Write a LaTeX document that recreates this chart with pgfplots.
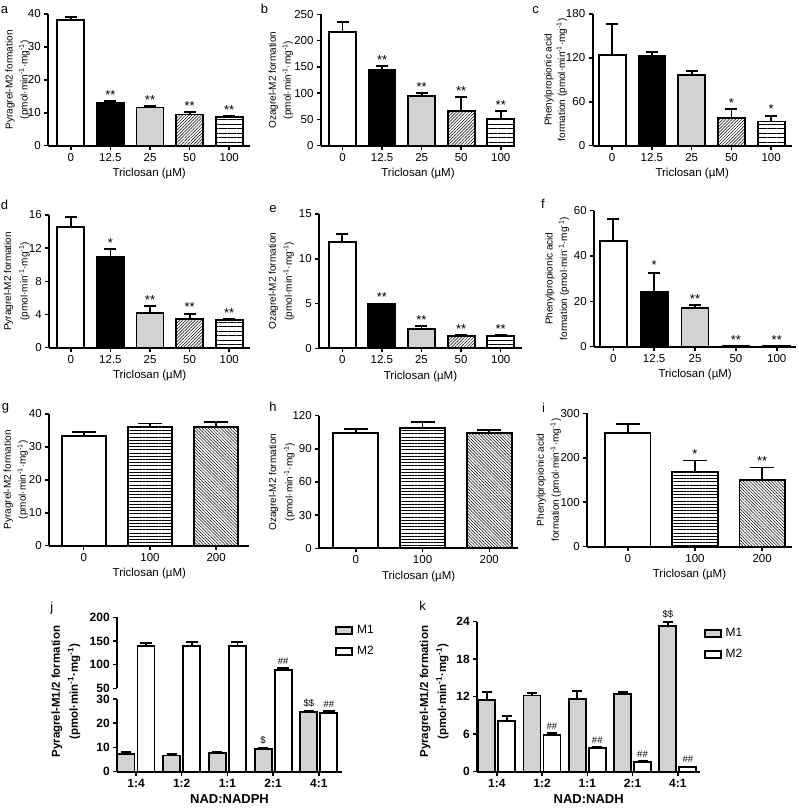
\documentclass[border=0pt]{standalone}
\usepackage{fontspec}
\setmainfont{Liberation Sans}
\usepackage{pgfplots}
\pgfplotsset{compat=1.18}
\usetikzlibrary{patterns.meta}
\definecolor{lg}{RGB}{210,210,210}
\newcommand{\fs}[1]{\fontsize{#1}{#1}\selectfont}
\newcommand{\st}[3]{\node[anchor=south, inner sep=0pt, yshift=1.5pt, font=\fs{13}] at (axis cs:#1,#2) {#3};}
\newcommand{\hs}[3]{\node[anchor=south, inner sep=0pt, yshift=3.5pt, font=\fs{9.5}] at (axis cs:#1,#2) {#3};}
\newcommand{\ylab}[2]{ylabel style={at={([xshift=-#1pt]axis description cs:0,#2)}}}
\pgfplotsset{
  base/.style={
    scale only axis, anchor=south west,
    axis x line=bottom, axis y line=left,
    axis line style={-, line width=1.8pt, black},
    tick align=outside, major tick length=4pt,
    major tick style={line width=1.5pt, black},
    enlargelimits=false, clip mode=individual,
    /pgf/number format/assume math mode=true,
  },
  gp/.style={base, ybar, enlargelimits=false,
    every axis plot post/.append style={bar shift=0pt},
    tick label style={font=\fs{11.5}},
    ylabel style={anchor=center, align=center, font=\fontsize{10}{15}\selectfont},
    xlabel style={font=\fs{11.5}},
    xlabel={Triclosan (µM)}, ymin=0},
  five/.style={gp, xtick={0,1,2,3,4}, xticklabels={0,12.5,25,50,100}, bar width=27pt},
  three/.style={gp, xtick={0,1,2}, xticklabels={0,100,200}, bar width=44pt},
  jk/.style={base, ybar=3pt, bar width=17pt, enlargelimits=false,
    tick label style={font=\bfseries\fs{12}},
    ylabel style={anchor=center, align=center, font=\bfseries\fontsize{11.5}{18}\selectfont},
    xlabel style={font=\bfseries\fs{13}},
    xtick={0,1,2,3,4}, xticklabels={1:4,1:2,1:1,2:1,4:1},
    legend image code/.code={\draw[#1, line width=1.8pt] (0pt,-3.5pt) rectangle (16pt,3.5pt);},
    legend style={draw=none, fill=none, font=\fs{12}, nodes={inner sep=1pt}, row sep=9pt, column sep=3pt, anchor=north west},
    legend cell align=left},
  bb/.style={draw=black, line width=1.8pt},
  bw/.style={bb, fill=white},
  bk/.style={bb, fill=black},
  bg/.style={bb, fill=lg},
  bd/.style={bb, pattern={Lines[angle=45,distance=2.2pt,line width=0.5pt]}},
  bh/.style={bb, pattern={Lines[angle=0,distance=4.5pt,line width=0.5pt]}},
  bh2/.style={bb, pattern={Lines[angle=0,distance=3.2pt,line width=0.45pt]}},
  bd2/.style={bb, pattern={Lines[angle=-45,distance=2.2pt,line width=0.5pt]}},
  eb/.style={error bars/y dir=plus, error bars/y explicit,
    error bars/error bar style={line width=1.8pt, black},
    error bars/error mark options={rotate=90, mark size=#1, line width=1.8pt, black}},
  eb/.default=6pt,
}
\begin{document}
\begin{tikzpicture}
\useasboundingbox (0,0) rectangle (798pt,808pt);
% panel letters
\node[font=\fs{13}] at (4.5pt,797.5pt) {a};
\node[font=\fs{13}] at (264.5pt,799pt) {b};
\node[font=\fs{13}] at (535.5pt,797.5pt) {c};
\node[font=\fs{13}] at (4.5pt,603pt) {d};
\node[font=\fs{13}] at (273pt,599pt) {e};
\node[font=\fs{13}] at (543pt,604.5pt) {f};
\node[font=\fs{13}] at (5.5pt,400pt) {g};
\node[font=\fs{13}] at (273pt,401.3pt) {h};
\node[font=\fs{13}] at (543.5pt,400.5pt) {i};
\node[font=\fs{13}] at (51.7pt,200pt) {j};
\node[font=\fs{13}] at (422.5pt,202pt) {k};

% ---------- a
\begin{axis}[five, at={(48.3pt,662.3pt)}, width=201.7pt, height=131.7pt,
  xmin=-0.568, xmax=4.525, ymax=40, ytick={0,10,20,30,40},
  \ylab{30.8}{0.5},
  ylabel={Pyragrel-M2 formation\\(pmol·min\textsuperscript{-1}·mg\textsuperscript{-1})}]
\addplot[bw, eb] coordinates {(0,38.2) +- (0,1.0)};
\addplot[bk, eb] coordinates {(1,13.1) +- (0,0.5)};
\addplot[bg, eb] coordinates {(2,11.6) +- (0,0.5)};
\addplot[bd, eb] coordinates {(3,9.5) +- (0,0.8)};
\addplot[bh, eb] coordinates {(4,8.6) +- (0,0.3)};
\st{1}{13.6}{**}\st{2}{12.1}{**}\st{3}{10.3}{**}\st{4}{8.9}{**}
\end{axis}

% ---------- b
\begin{axis}[five, at={(321pt,662.3pt)}, width=194pt, height=131.4pt,
  xmin=-0.544, xmax=4.36, ymax=250, ytick={0,50,100,150,200,250},
  \ylab{40.2}{0.5},
  ylabel={Ozagrel-M2 formation\\(pmol·min\textsuperscript{-1}·mg\textsuperscript{-1})}]
\addplot[bw, eb] coordinates {(0,217) +- (0,18)};
\addplot[bk, eb] coordinates {(1,143.5) +- (0,8.5)};
\addplot[bg, eb] coordinates {(2,94) +- (0,6)};
\addplot[bd, eb] coordinates {(3,66) +- (0,26)};
\addplot[bh, eb] coordinates {(4,51) +- (0,15)};
\st{1}{152}{**}\st{2}{100}{**}\st{3}{92}{**}\st{4}{66}{**}
\end{axis}

% ---------- c
\begin{axis}[five, at={(592.7pt,662.3pt)}, width=199pt, height=131.7pt,
  xmin=-0.49, xmax=4.516, ymax=180, ytick={0,60,120,180},
  \ylab{37}{0.5}, ylabel style={font=\fontsize{10}{13.5}\selectfont},
  ylabel={Phenylpropionic acid\\formation (pmol·min\textsuperscript{-1}·mg\textsuperscript{-1})}]
\addplot[bw, eb] coordinates {(0,124) +- (0,42)};
\addplot[bk, eb] coordinates {(1,122.5) +- (0,5.5)};
\addplot[bg, eb] coordinates {(2,96.5) +- (0,5.5)};
\addplot[bd, eb] coordinates {(3,38) +- (0,12)};
\addplot[bh, eb] coordinates {(4,33) +- (0,8)};
\st{3}{50}{*}\st{4}{41}{*}
\end{axis}

% ---------- d
\begin{axis}[five, at={(49.3pt,460.3pt)}, width=200.7pt, height=132.7pt,
  xmin=-0.543, xmax=4.525, ymax=16, ytick={0,4,8,12,16},
  \ylab{32.6}{0.5}, ylabel style={font=\fontsize{10}{16.5}\selectfont},
  ylabel={Pyragrel-M2 formation\\(pmol·min\textsuperscript{-1}·mg\textsuperscript{-1})}]
\addplot[bw, eb] coordinates {(0,14.6) +- (0,1.15)};
\addplot[bk, eb] coordinates {(1,10.9) +- (0,1.0)};
\addplot[bg, eb] coordinates {(2,4.2) +- (0,0.85)};
\addplot[bd, eb] coordinates {(3,3.5) +- (0,0.6)};
\addplot[bh, eb] coordinates {(4,3.3) +- (0,0.15)};
\st{1}{11.9}{*}\st{2}{5.05}{**}\st{3}{4.1}{**}\st{4}{3.45}{**}
\end{axis}

% ---------- e
\begin{axis}[five, at={(319.3pt,459.7pt)}, width=202.4pt, height=134.3pt,
  xmin=-0.58, xmax=4.53, ymax=15, ytick={0,5,10,15},
  \ylab{38}{0.5}, ylabel style={font=\fontsize{10}{16}\selectfont},
  ylabel={Ozagrel-M2 formation\\(pmol·min\textsuperscript{-1}·mg\textsuperscript{-1})}]
\addplot[bw, eb] coordinates {(0,11.9) +- (0,0.85)};
\addplot[bk, eb] coordinates {(1,4.95) +- (0,0.05)};
\addplot[bg, eb] coordinates {(2,2.15) +- (0,0.37)};
\addplot[bd, eb] coordinates {(3,1.34) +- (0,0.15)};
\addplot[bh, eb] coordinates {(4,1.34) +- (0,0.15)};
\st{1}{5.0}{**}\st{2}{2.52}{**}\st{3}{1.49}{**}\st{4}{1.49}{**}
\end{axis}

% ---------- f
\begin{axis}[five, at={(594.3pt,461.3pt)}, width=201.7pt, height=136pt,
  xmin=-0.465, xmax=4.47, ymax=60, ytick={0,20,40,60},
  \ylab{37}{0.5}, ylabel style={font=\fontsize{10}{14.5}\selectfont},
  ylabel={Phenylpropionic acid\\formation (pmol·min\textsuperscript{-1}·mg\textsuperscript{-1})}]
\addplot[bw, eb] coordinates {(0,46.8) +- (0,9.4)};
\addplot[bk, eb] coordinates {(1,24.2) +- (0,8.2)};
\addplot[bg, eb] coordinates {(2,17.2) +- (0,1.2)};
\addplot[bd, eb] coordinates {(3,0.3) +- (0,0.1)};
\addplot[bh, eb] coordinates {(4,0.3) +- (0,0.1)};
\st{1}{33.5}{*}\st{2}{18.4}{**}\st{3}{0.4}{**}\st{4}{0.4}{**}
\end{axis}

% ---------- g
\begin{axis}[three, at={(49.3pt,262.3pt)}, width=200pt, height=131.7pt,
  xmin=-0.52, xmax=2.5, ymax=40, ytick={0,10,20,30,40},
  \ylab{33.5}{0.5},
  ylabel={Pyragrel-M2 formation\\(pmol·min\textsuperscript{-1}·mg\textsuperscript{-1})}]
\addplot[bw, eb=12pt] coordinates {(0,33.4) +- (0,1.1)};
\addplot[bh2, eb=12pt] coordinates {(1,36.2) +- (0,0.9)};
\addplot[bd2, eb=12pt] coordinates {(2,36.0) +- (0,1.6)};
\end{axis}

% ---------- h
\begin{axis}[three, at={(319.3pt,259.7pt)}, width=198.7pt, height=132.6pt, bar width=45pt,
  xmin=-0.547, xmax=2.43, ymax=120, ytick={0,30,60,90,120},
  \ylab{37.6}{0.5}, ylabel style={font=\fontsize{10}{16.5}\selectfont},
  ylabel={Ozagrel-M2 formation\\(pmol·min\textsuperscript{-1}·mg\textsuperscript{-1})}]
\addplot[bw, eb=12pt] coordinates {(0,104) +- (0,4)};
\addplot[bh2, eb=12pt] coordinates {(1,109) +- (0,5)};
\addplot[bd2, eb=12pt] coordinates {(2,104) +- (0,2.7)};
\end{axis}

% ---------- i
\begin{axis}[three, at={(587.3pt,261.3pt)}, width=204.4pt, height=133.4pt, bar width=45.5pt,
  xmin=-0.603, xmax=2.44, ymax=300, ytick={0,100,200,300},
  \ylab{38.5}{0.5},
  ylabel={Phenylpropionic acid\\formation (pmol·min\textsuperscript{-1}·mg\textsuperscript{-1})}]
\addplot[bw, eb=12pt] coordinates {(0,256) +- (0,20)};
\addplot[bh2, eb=12pt] coordinates {(1,169) +- (0,25)};
\addplot[bd2, eb=12pt] coordinates {(2,150) +- (0,28)};
\st{1}{194}{*}\st{2}{178}{**}
\end{axis}

% ---------- j upper part (50-200)
\begin{axis}[jk, at={(117.3pt,119.7pt)}, width=224.4pt, height=71pt,
  xmin=-0.41, xmax=4.5, ymin=50, ymax=200, ytick={50,100,150,200},
  axis x line=none]
\addplot[draw=none, fill=none] coordinates {(0,7.3) (1,6.7) (2,7.7) (3,9.3) (4,24.6)};
\addplot[bw, eb=6pt, restrict y to domain=50:1000] coordinates {(0,139.5) +- (0,5.5) (1,139) +- (0,9) (2,140) +- (0,8) (3,88.5) +- (0,4.5) (4,24.2) +- (0,0.8)};
\hs{3.22}{93}{\#\#}
\end{axis}
% ---------- j lower part (0-30)
\begin{axis}[jk, at={(117.3pt,36.3pt)}, width=224.4pt, height=84.7pt,
  xmin=-0.41, xmax=4.5, ymin=0, ymax=34.96, ytick={0,10,20,30},
  y axis line style={draw=none}, xlabel={NAD:NADPH},
  \ylab{51.4}{0.9445},
  ylabel={Pyragrel-M1/2 formation\\(pmol·min\textsuperscript{-1}·mg\textsuperscript{-1})},
  legend style={at={(axis description cs:0.957,1.7615)}}]
\addplot[bg, eb=5pt] coordinates {(0,7.3) +- (0,0.8) (1,6.7) +- (0,0.6) (2,7.7) +- (0,0.6) (3,9.3) +- (0,0.4) (4,24.6) +- (0,0.6)};
\addplot[bw, eb=6pt] coordinates {(0,139.5) +- (0,5.5) (1,139) +- (0,9) (2,140) +- (0,8) (3,88.5) +- (0,4.5) (4,24.2) +- (0,0.8)};
\addlegendentry{M1}
\addlegendentry{M2}
\draw[line width=1.8pt] (rel axis cs:0,0) -- (rel axis cs:0,0.8581);
\hs{2.78}{9.7}{\$}\hs{3.78}{25.2}{\$\$}\hs{4.22}{25}{\#\#}
\end{axis}

% ---------- k
\begin{axis}[jk, at={(477.3pt,36.3pt)}, width=222.7pt, height=150pt,
  xmin=-0.43, xmax=4.49, ymin=0, ymax=24, ytick={0,6,12,18,24},
  xlabel={NAD:NADH},
  \ylab{43.1}{0.533},
  ylabel={Pyragrel-M1/2 formation\\(pmol·min\textsuperscript{-1}·mg\textsuperscript{-1})},
  legend style={at={(axis description cs:1.003,0.975)}}]
\addplot[bg, eb=5pt] coordinates {(0,11.5) +- (0,1.2) (1,12.2) +- (0,0.4) (2,11.6) +- (0,1.3) (3,12.4) +- (0,0.4) (4,23.3) +- (0,0.6)};
\addplot[bw, eb=5pt] coordinates {(0,8.1) +- (0,0.8) (1,5.85) +- (0,0.35) (2,3.85) +- (0,0.1) (3,1.6) +- (0,0.1) (4,0.7) +- (0,0.1)};
\addlegendentry{M1}
\addlegendentry{M2}
\hs{1.22}{6.2}{\#\#}\hs{2.22}{3.95}{\#\#}\hs{3.22}{1.7}{\#\#}\hs{4.22}{0.8}{\#\#}\hs{3.78}{23.9}{\$\$}
\end{axis}
\end{tikzpicture}
\end{document}
